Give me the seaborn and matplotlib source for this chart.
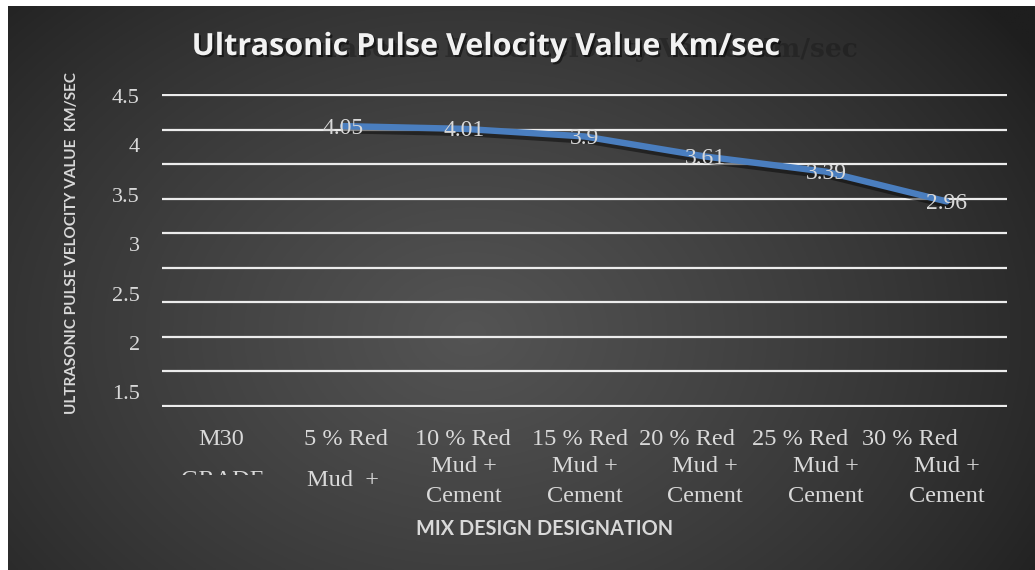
import numpy as np
import pandas as pd
import matplotlib
matplotlib.use("Agg")
import matplotlib.pyplot as plt
import matplotlib.patheffects as pe
from matplotlib.transforms import Bbox, TransformedBbox
import seaborn as sns

# ---------------- data ----------------
categories = ["M30 GRADE", "5 % Red Mud + Cement", "10 % Red Mud + Cement",
              "15 % Red Mud + Cement", "20 % Red Mud + Cement",
              "25 % Red Mud + Cement", "30 % Red Mud + Cement"]
upv = [np.nan, 4.05, 4.01, 3.9, 3.61, 3.39, 2.96]
label_first = ["M30", "5 % Red", "10 % Red", "15 % Red", "20 % Red", "25 % Red", "30 % Red"]
label_rest = [["GRADE"], ["Mud  +"], ["Mud +", "Cement"], ["Mud +", "Cement"],
              ["Mud +", "Cement"], ["Mud +", "Cement"], ["Mud +", "Cement"]]
ytick_values = [1.5, 2.0, 2.5, 3.0, 3.5, 4.0, 4.5]
ytick_labels = ["1.5", "2", "2.5", "3", "3.5", "4", "4.5"]
grid_values = [0, 0.5, 1.0, 1.5, 2.0, 2.5, 3.0, 3.5, 4.0, 4.5]
title = "Ultrasonic Pulse Velocity Value Km/sec"
xlabel = "MIX DESIGN DESIGNATION"
ylabel = "ULTRASONIC PULSE VELOCITY VALUE  KM/SEC"

# ---------------- layout ----------------
W, H = 1035, 570
fig = plt.figure(figsize=(W / 100, H / 100), dpi=100)
fig.patch.set_facecolor("white")

# background gradient panel
bg = fig.add_axes([8 / W, 0, 1 - 8 / W, 1 - 6 / H], zorder=-10)
ny, nx = 300, 520
yy, xx = np.mgrid[0:1:ny * 1j, 0:1:nx * 1j]
r = np.sqrt(((xx - 0.45) / 0.66) ** 2 + ((yy - 0.58) / 0.9) ** 2)
v = np.clip(1 - r, 0, 1) ** 0.8
dark, light = 30 / 255, 84 / 255
g = dark + (light - dark) * v
img = np.dstack([g, g, g])
bg.imshow(img, aspect="auto", extent=[0, 1, 0, 1], origin="upper")
bg.axis("off")

ax_left, ax_right, ax_top, ax_bottom = 162, 1007, 93.6, 407.4
ax = fig.add_axes([ax_left / W, 1 - ax_bottom / H,
                   (ax_right - ax_left) / W, (ax_bottom - ax_top) / H])
ax.set_facecolor("none")

df = pd.DataFrame({"category": categories, "pos": range(len(categories)), "upv": upv})
sns.lineplot(data=df.dropna(), x="pos", y="upv", ax=ax, color="#4a7ebf",
             linewidth=4.6, solid_capstyle="round", zorder=3,
             path_effects=[pe.SimpleLineShadow(offset=(2, -3), shadow_color="black", alpha=0.45),
                           pe.Normal()])

ax.set_xlim(-0.5, len(categories) - 0.5)
ax.set_ylim(-0.02, 4.52)
ax.set_yticks(grid_values)
ax.set_yticklabels([])
ax.set_xticks(range(len(categories)))
ax.set_xticklabels([])
ax.tick_params(length=0)
ax.grid(axis="y", color="#ececec", linewidth=1.6)
ax.grid(axis="x", visible=False)
ax.set_axisbelow(True)
for s in ax.spines.values():
    s.set_visible(False)
ax.set_xlabel("")
ax.set_ylabel("")

serif = "Liberation Serif"
lbl_color = "#d9d9d9"

# data labels
for p, val in zip(df["pos"], df["upv"]):
    if np.isnan(val):
        continue
    ax.annotate(f"{val:g}", xy=(p, val), xytext=(0, -2), textcoords="offset pixels",
                ha="center", va="center", fontsize=17, family=serif,
                color=lbl_color, zorder=5)

# category labels (line by line)
first_dx = [-1, 3, -1, -5, -18, -26, -37]
first_base = 445
rest_base = [[486], [486], [472, 502], [472, 502], [472, 502], [472, 502], [472, 502]]
clip_box = TransformedBbox(Bbox.from_extents(0, 1 - 475 / H, 1, 1), fig.transFigure)
for i, (first, rest) in enumerate(zip(label_first, label_rest)):
    ax.annotate(first, xy=(i, 0), xycoords=("data", "axes fraction"),
                xytext=(first_dx[i], -(first_base - ax_bottom)), textcoords="offset pixels",
                ha="center", va="baseline", fontsize=17.5, family=serif, color=lbl_color)
    for line, base in zip(rest, rest_base[i]):
        t = ax.annotate(line, xy=(i, 0), xycoords=("data", "axes fraction"),
                        xytext=(0, -(base - ax_bottom)), textcoords="offset pixels",
                        ha="center", va="baseline", fontsize=17.5, family=serif,
                        color=lbl_color)
        if i == 0:
            t.set_clip_on(True)
            t.set_clip_box(clip_box)

# y tick labels on a twin axis (as positioned in the original)
ax2 = ax.twinx()
ax2.set_ylim(1.348, 4.524)
ax2.set_yticks(ytick_values)
ax2.set_yticklabels(ytick_labels)
ax2.yaxis.tick_left()
ax2.tick_params(length=0, pad=16, labelsize=16, labelcolor=lbl_color)
for t in ax2.get_yticklabels():
    t.set_fontfamily(serif)
ax2.grid(False)
for s in ax2.spines.values():
    s.set_visible(False)

# title with faint ghost shadow
fig.text(858 / W, 1 - 57 / H, title, ha="right", va="baseline", fontsize=19,
         fontweight="bold", family="DejaVu Serif", color="#161616", alpha=0.4)
fig.text(485 / W, 1 - 55 / H, title, ha="center", va="baseline", fontsize=22,
         fontweight="bold", family="Open Sans", color="#f2f2f2",
         path_effects=[pe.withSimplePatchShadow(offset=(1.5, -1.5), shadow_rgbFace="black", alpha=0.5)])

# axis titles
fig.text(545 / W, 1 - 535 / H, xlabel, ha="center", va="baseline", fontsize=14.3,
         fontweight="bold", family="Lato", color=lbl_color)
fig.text(72 / W, 1 - 243 / H, ylabel, ha="center", va="center", rotation=90,
         fontsize=11, fontweight="bold", family="Lato", color=lbl_color)

fig.savefig("out.png", dpi=100, facecolor=fig.get_facecolor())
